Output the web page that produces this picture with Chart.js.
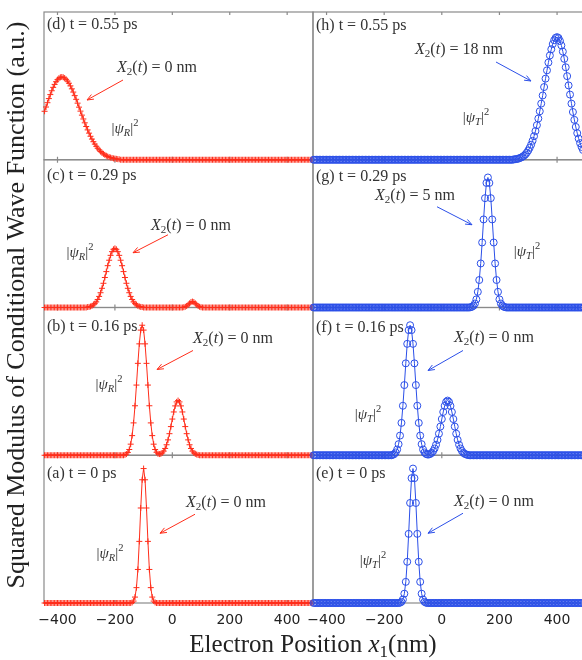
<!DOCTYPE html>
<html><head><meta charset="utf-8">
<script src="https://cdn.jsdelivr.net/npm/chart.js@4.4.1/dist/chart.umd.min.js"></script>
<style>
html,body{margin:0;padding:0;background:#fff;}
#wrap{position:relative;width:582px;height:660px;overflow:hidden;background:#fff;}
canvas{position:absolute;top:0;}
#cL{left:0;} #cR{left:290px;}
</style></head><body>
<div id="wrap"><canvas id="cL" width="582" height="660"></canvas><canvas id="cR" width="310" height="660"></canvas></div>
<script>
// ---------- DATA ----------
// electron position grid x1 (nm)
const xPositions = [
-445,-440,-435,-430,-425,-420,-415,-410,-405,-400,-395,-390,-385,-380,-375,-370,-365,-360,-355,-350,
-345,-340,-335,-330,-325,-320,-315,-310,-305,-300,-295,-290,-285,-280,-275,-270,-265,-260,-255,-250,
-245,-240,-235,-230,-225,-220,-215,-210,-205,-200,-195,-190,-185,-180,-175,-170,-165,-160,-155,-150,
-145,-140,-135,-130,-125,-120,-115,-110,-105,-100,-95,-90,-85,-80,-75,-70,-65,-60,-55,-50,
-45,-40,-35,-30,-25,-20,-15,-10,-5,0,5,10,15,20,25,30,35,40,45,50,
55,60,65,70,75,80,85,90,95,100,105,110,115,120,125,130,135,140,145,150,
155,160,165,170,175,180,185,190,195,200,205,210,215,220,225,230,235,240,245,250,
255,260,265,270,275,280,285,290,295,300,305,310,315,320,325,330,335,340,345,350,
355,360,365,370,375,380,385,390,395,400,405,410,415,420,425,430,435,440,445,450,
455,460,465,470,475,480,485,490];

// |psi_R|^2 (a.u.), left column
const psiR_d = [
.328,.357,.386,.414,.441,.467,.490,.510,.528,.542,.552,.558,.560,.558,.553,.544,.532,.518,.500,.480,
.458,.434,.409,.383,.356,.329,.302,.276,.250,.225,.202,.180,.159,.140,.122,.106,.091,.078,.067,.056,
.047,.040,.033,.027,.022,.018,.015,.012,.009,.008,.006,.004,.003,0,0,0,0,0,0,0,
0,0,0,0,0,0,0,0,0,0,0,0,0,0,0,0,0,0,0,0,
0,0,0,0,0,0,0,0,0,0,0,0,0,0,0,0,0,0,0,0,
0,0,0,0,0,0,0,0,0,0,0,0,0,0,0,0,0,0,0,0,
0,0,0,0,0,0,0,0,0,0,0,0,0,0,0,0,0,0,0,0,
0,0,0,0,0,0,0,0,0,0,0,0,0,0,0,0,0,0,0,0,
0,0,0,0,0,0,0,0,0,0,0,0,0,0,0,0,0,0,0,0,
0,0,0,0,0,0,0,0];
const psiR_c = [
0,0,0,0,0,0,0,0,0,0,0,0,0,0,0,0,0,0,0,0,
0,0,0,0,0,0,0,0,0,0,.003,.004,.007,.011,.018,.026,.038,.054,.075,.100,
.130,.164,.203,.243,.283,.320,.353,.378,.394,.400,.394,.378,.353,.320,.283,.243,.203,.164,.130,.100,
.075,.054,.038,.026,.018,.011,.007,.004,.003,0,0,0,0,0,0,0,0,0,0,0,
0,0,0,0,0,0,0,0,0,0,0,0,0,0,0,0,0,.002,.005,.010,
.018,.028,.037,.040,.037,.028,.018,.010,.005,.002,0,0,0,0,0,0,0,0,0,0,
0,0,0,0,0,0,0,0,0,0,0,0,0,0,0,0,0,0,0,0,
0,0,0,0,0,0,0,0,0,0,0,0,0,0,0,0,0,0,0,0,
0,0,0,0,0,0,0,0,0,0,0,0,0,0,0,0,0,0,0,0,
0,0,0,0,0,0,0,0];
const psiR_b = [
0,0,0,0,0,0,0,0,0,0,0,0,0,0,0,0,0,0,0,0,
0,0,0,0,0,0,0,0,0,0,0,0,0,0,0,0,0,0,0,0,
0,0,0,0,0,0,0,0,0,0,0,0,0,0,0,0,.003,.008,.019,.039,
.075,.133,.219,.335,.475,.622,.754,.847,.880,.847,.754,.622,.475,.335,.219,.133,.075,.039,.020,.010,
.008,.009,.016,.028,.046,.071,.104,.146,.194,.245,.293,.334,.361,.370,.361,.334,.293,.245,.194,.146,
.104,.071,.046,.028,.016,.009,.005,.002,0,0,0,0,0,0,0,0,0,0,0,0,
0,0,0,0,0,0,0,0,0,0,0,0,0,0,0,0,0,0,0,0,
0,0,0,0,0,0,0,0,0,0,0,0,0,0,0,0,0,0,0,0,
0,0,0,0,0,0,0,0,0,0,0,0,0,0,0,0,0,0,0,0,
0,0,0,0,0,0,0,0];
const psiR_a = [
0,0,0,0,0,0,0,0,0,0,0,0,0,0,0,0,0,0,0,0,
0,0,0,0,0,0,0,0,0,0,0,0,0,0,0,0,0,0,0,0,
0,0,0,0,0,0,0,0,0,0,0,0,0,0,0,0,0,0,0,0,
0,.004,.013,.040,.104,.227,.417,.643,.834,.910,.834,.643,.417,.227,.104,.040,.013,.004,0,0,
0,0,0,0,0,0,0,0,0,0,0,0,0,0,0,0,0,0,0,0,
0,0,0,0,0,0,0,0,0,0,0,0,0,0,0,0,0,0,0,0,
0,0,0,0,0,0,0,0,0,0,0,0,0,0,0,0,0,0,0,0,
0,0,0,0,0,0,0,0,0,0,0,0,0,0,0,0,0,0,0,0,
0,0,0,0,0,0,0,0,0,0,0,0,0,0,0,0,0,0,0,0,
0,0,0,0,0,0,0,0];

// |psi_T|^2 (a.u.), right column
const psiT_h = [
0,0,0,0,0,0,0,0,0,0,0,0,0,0,0,0,0,0,0,0,
0,0,0,0,0,0,0,0,0,0,0,0,0,0,0,0,0,0,0,0,
0,0,0,0,0,0,0,0,0,0,0,0,0,0,0,0,0,0,0,0,
0,0,0,0,0,0,0,0,0,0,0,0,0,0,0,0,0,0,0,0,
0,0,0,0,0,0,0,0,0,0,0,0,0,0,0,0,0,0,0,0,
0,0,0,0,0,0,0,0,0,0,0,0,0,0,0,0,0,0,0,0,
0,0,0,0,0,0,0,0,0,0,0,0,0,0,0,0,0,0,0,.002,
.004,.005,.007,.011,.015,.020,.027,.036,.048,.063,.081,.102,.128,.159,.194,.234,.279,.328,.380,.435,
.492,.549,.605,.658,.706,.748,.783,.809,.825,.830,.824,.804,.774,.732,.683,.626,.566,.503,.441,.380,
.323,.270,.222,.180,.143,.112,.087,.066];
const psiT_g = [
0,0,0,0,0,0,0,0,0,0,0,0,0,0,0,0,0,0,0,0,
0,0,0,0,0,0,0,0,0,0,0,0,0,0,0,0,0,0,0,0,
0,0,0,0,0,0,0,0,0,0,0,0,0,0,0,0,0,0,0,0,
0,0,0,0,0,0,0,0,0,0,0,0,0,0,0,0,0,0,0,0,
0,0,0,0,0,0,0,0,0,0,0,0,0,0,0,0,0,0,0,0,
0,0,0,0,0,0,0,0,0,.002,.005,.012,.027,.055,.106,.186,.298,.440,.596,.740,
.843,.880,.843,.740,.596,.440,.298,.186,.106,.055,.027,.012,.005,.002,0,0,0,0,0,0,
0,0,0,0,0,0,0,0,0,0,0,0,0,0,0,0,0,0,0,0,
0,0,0,0,0,0,0,0,0,0,0,0,0,0,0,0,0,0,0,0,
0,0,0,0,0,0,0,0];
const psiT_f = [
0,0,0,0,0,0,0,0,0,0,0,0,0,0,0,0,0,0,0,0,
0,0,0,0,0,0,0,0,0,0,0,0,0,0,0,0,0,0,0,0,
0,0,0,0,0,0,0,0,0,0,0,0,0,0,0,.003,.008,.019,.039,.075,
.133,.219,.335,.475,.622,.754,.847,.880,.847,.754,.622,.475,.335,.219,.133,.075,.039,.019,.009,.005,
.005,.009,.016,.028,.046,.071,.104,.146,.194,.245,.293,.334,.361,.370,.361,.334,.293,.245,.194,.146,
.104,.071,.046,.028,.016,.009,.005,.002,0,0,0,0,0,0,0,0,0,0,0,0,
0,0,0,0,0,0,0,0,0,0,0,0,0,0,0,0,0,0,0,0,
0,0,0,0,0,0,0,0,0,0,0,0,0,0,0,0,0,0,0,0,
0,0,0,0,0,0,0,0,0,0,0,0,0,0,0,0,0,0,0,0,
0,0,0,0,0,0,0,0];
const psiT_e = [
0,0,0,0,0,0,0,0,0,0,0,0,0,0,0,0,0,0,0,0,
0,0,0,0,0,0,0,0,0,0,0,0,0,0,0,0,0,0,0,0,
0,0,0,0,0,0,0,0,0,0,0,0,0,0,0,0,0,0,0,0,
.002,.008,.024,.063,.143,.279,.468,.677,.845,.910,.845,.677,.468,.279,.143,.063,.024,.008,.002,0,
0,0,0,0,0,0,0,0,0,0,0,0,0,0,0,0,0,0,0,0,
0,0,0,0,0,0,0,0,0,0,0,0,0,0,0,0,0,0,0,0,
0,0,0,0,0,0,0,0,0,0,0,0,0,0,0,0,0,0,0,0,
0,0,0,0,0,0,0,0,0,0,0,0,0,0,0,0,0,0,0,0,
0,0,0,0,0,0,0,0,0,0,0,0,0,0,0,0,0,0,0,0,
0,0,0,0,0,0,0,0];

const xTickValues = [-400, -200, 0, 200, 400];
const panelLetters = ['d','c','b','a','h','g','f','e'];
const panelTimes   = ['0.55','0.29','0.16','0','0.55','0.29','0.16','0'];   // ps
const panelX2      = [0, 0, 0, 0, 18, 5, 0, 0];                            // nm
const yTitle = 'Squared Modulus of Conditional Wave Function (a.u.)';
const xTitleMain = 'Electron Position ';

// ---------- LAYOUT / STYLE ----------
const RED = '#ff2d1a', BLUE = '#2b4fe8', FRAME = '#8a8a8a', TXT = '#333';
const SERIF = '"Liberation Serif", "DejaVu Serif", serif';
// annotation placement relative to each panel (left, top) in px
const annotLayout = {
  d:{label:[3,12], x2:[113,55], arrow:[79,68,43,88],   psi:[81,116]},
  c:{label:[3,15], x2:[147,65], arrow:[124,75,89,93],  psi:[36,92]},
  b:{label:[3,18], x2:[189,30], arrow:[149,43,113,62], psi:[65,76]},
  a:{label:[3,18], x2:[182,47], arrow:[151,59,116,78], psi:[66,98]},
  h:{label:[3,13], x2:[146,37], arrow:[183,50,218,69], psi:[163,105]},
  g:{label:[3,16], x2:[102,35], arrow:[124,47,159,65], psi:[214,91]},
  f:{label:[3,19], x2:[181,29], arrow:[150,43,115,63], psi:[55,106]},
  e:{label:[3,18], x2:[181,46], arrow:[150,58,115,78], psi:[60,105]}
};

function richWidth(ctx, parts) {
  let w = 0;
  parts.forEach(p => { ctx.font = (p.it ? 'italic ' : '') + p.s + 'px ' + SERIF; w += ctx.measureText(p.t).width; });
  return w;
}
function drawRich(ctx, parts, x, y, align) {
  const w = richWidth(ctx, parts);
  let cx = align === 'center' ? x - w / 2 : x;
  ctx.textAlign = 'left'; ctx.textBaseline = 'alphabetic';
  parts.forEach(p => {
    ctx.font = (p.it ? 'italic ' : '') + p.s + 'px ' + SERIF;
    ctx.fillText(p.t, cx, y + (p.dy || 0));
    cx += ctx.measureText(p.t).width;
  });
}
function drawArrow(ctx, x1, y1, x2, y2, color) {
  const a = Math.atan2(y2 - y1, x2 - x1), L = 7;
  ctx.save(); ctx.strokeStyle = color; ctx.lineWidth = 1;
  ctx.beginPath(); ctx.moveTo(x1, y1); ctx.lineTo(x2, y2);
  ctx.moveTo(x2 - L * Math.cos(a - 0.38), y2 - L * Math.sin(a - 0.38)); ctx.lineTo(x2, y2);
  ctx.lineTo(x2 - L * Math.cos(a + 0.38), y2 - L * Math.sin(a + 0.38));
  ctx.stroke(); ctx.restore();
}

function decorPlugin(col) {
  return {
    id: 'decor' + col.name,
    beforeDatasetsDraw(chart) {
      const ctx = chart.ctx, ca = chart.chartArea, xs = chart.scales.x;
      ctx.save();
      ctx.strokeStyle = FRAME; ctx.lineWidth = 1.2;
      col.panels.forEach(p => {
        const ys = chart.scales[p.id];
        ctx.strokeRect(ca.left, ys.top, ca.right - ca.left, ys.bottom - ys.top);
        ctx.beginPath();
        xTickValues.forEach(v => {
          const px = xs.getPixelForValue(v);
          ctx.moveTo(px, ys.bottom); ctx.lineTo(px, ys.bottom - 3);
          ctx.moveTo(px, ys.top); ctx.lineTo(px, ys.top + 3);
        });
        ctx.stroke();
      });
      ctx.restore();
    },
    afterDatasetsDraw(chart) {
      const ctx = chart.ctx, ca = chart.chartArea;
      ctx.save();
      col.panels.forEach(p => {
        const ys = chart.scales[p.id], L = annotLayout[p.letter];
        const left = ca.left, top = ys.top;
        ctx.fillStyle = TXT;
        drawRich(ctx, [{t: '(' + p.letter + ') t = ' + p.time + ' ps', s: 16}], left + L.label[0], top + L.label[1] + 5, 'left');
        drawRich(ctx, [
          {t: 'X', it: true, s: 16}, {t: '2', s: 11, dy: 3}, {t: '(', s: 16}, {t: 't', it: true, s: 16},
          {t: ') = ' + p.x2 + ' nm', s: 16}], left + L.x2[0], top + L.x2[1] + 5, 'center');
        drawRich(ctx, [
          {t: '|', s: 15}, {t: 'ψ', it: true, s: 15}, {t: col.sub, it: true, s: 10.5, dy: 3},
          {t: '|', s: 15}, {t: '2', s: 10.5, dy: -7}], left + L.psi[0], top + L.psi[1] + 5, 'center');
        const ar = L.arrow;
        drawArrow(ctx, left + ar[0], top + ar[1], left + ar[2], top + ar[3], col.color);
      });
      ctx.restore();
    },
    afterDraw(chart) {
      if (!col.titles) return;
      const ctx = chart.ctx;
      ctx.save();
      ctx.fillStyle = '#222';
      ctx.translate(24, 305); ctx.rotate(-Math.PI / 2);
      ctx.font = '26px ' + SERIF; ctx.textAlign = 'center'; ctx.textBaseline = 'alphabetic';
      ctx.fillText(yTitle, 0, 0);
      ctx.restore();
      ctx.save();
      ctx.fillStyle = '#222';
      drawRich(ctx, [{t: xTitleMain, s: 25}, {t: 'x', it: true, s: 25}, {t: '1', s: 17, dy: 5}, {t: '(nm)', s: 25}], 313, 652, 'center');
      ctx.restore();
    }
  };
}

function buildColumn(canvasId, col) {
  const scales = {
    x: {
      type: 'linear', min: -447, max: 490,
      afterBuildTicks: s => { s.ticks = xTickValues.map(v => ({value: v})); },
      afterFit: s => { s.height = 57; },
      grid: {display: false, drawTicks: false}, border: {display: false},
      ticks: {
        font: {family: '"DejaVu Sans", sans-serif', size: 14}, color: '#222', padding: 9,
        maxRotation: 0, autoSkip: false,
        callback: v => (v < 0 ? '\u2212' + Math.abs(v) : String(v))
      }
    }
  };
  // bottom panel first so that the last panel is stacked on top
  col.panels.slice().reverse().forEach(p => {
    scales[p.id] = {
      type: 'linear', position: 'left', stack: 'col', stackWeight: 1, min: 0, max: 1,
      ticks: {display: false}, grid: {display: false, drawTicks: false}, border: {display: false},
      afterFit: s => { s.width = 0; }
    };
  });
  const datasets = col.panels.map(p => ({
    label: p.letter,
    data: xPositions.map((x, i) => ({x: x, y: p.values[i]})),
    yAxisID: p.id, xAxisID: 'x',
    borderColor: col.color, borderWidth: 1,
    pointStyle: col.pointStyle, pointRadius: col.radius, pointBorderWidth: 1,
    pointBorderColor: col.color, pointBackgroundColor: 'rgba(0,0,0,0)',
    tension: 0, clip: false, fill: false
  }));
  return new Chart(document.getElementById(canvasId), {
    type: 'line',
    data: {datasets},
    options: {
      responsive: false, animation: false, devicePixelRatio: 1,
      layout: {padding: col.padding},
      plugins: {legend: {display: false}, tooltip: {enabled: false}},
      scales
    },
    plugins: [decorPlugin(col)]
  });
}

const leftCol = {
  name: 'L', color: RED, pointStyle: 'cross', radius: 3, sub: 'R', titles: true,
  padding: {left: 44, right: 269, top: 12, bottom: 0},
  panels: [
    {id: 'yD', letter: panelLetters[0], time: panelTimes[0], x2: panelX2[0], values: psiR_d},
    {id: 'yC', letter: panelLetters[1], time: panelTimes[1], x2: panelX2[1], values: psiR_c},
    {id: 'yB', letter: panelLetters[2], time: panelTimes[2], x2: panelX2[2], values: psiR_b},
    {id: 'yA', letter: panelLetters[3], time: panelTimes[3], x2: panelX2[3], values: psiR_a}
  ]
};
const rightCol = {
  name: 'R', color: BLUE, pointStyle: 'circle', radius: 3.5, sub: 'T', titles: false,
  padding: {left: 23, right: 17, top: 12, bottom: 0},
  panels: [
    {id: 'yH', letter: panelLetters[4], time: panelTimes[4], x2: panelX2[4], values: psiT_h},
    {id: 'yG', letter: panelLetters[5], time: panelTimes[5], x2: panelX2[5], values: psiT_g},
    {id: 'yF', letter: panelLetters[6], time: panelTimes[6], x2: panelX2[6], values: psiT_f},
    {id: 'yE', letter: panelLetters[7], time: panelTimes[7], x2: panelX2[7], values: psiT_e}
  ]
};
[leftCol, rightCol].forEach(c => c.panels.forEach(p => {
  if (p.values.length !== xPositions.length) console.error('length mismatch', p.letter, p.values.length);
}));
buildColumn('cL', leftCol);
buildColumn('cR', rightCol);
</script></body></html>
